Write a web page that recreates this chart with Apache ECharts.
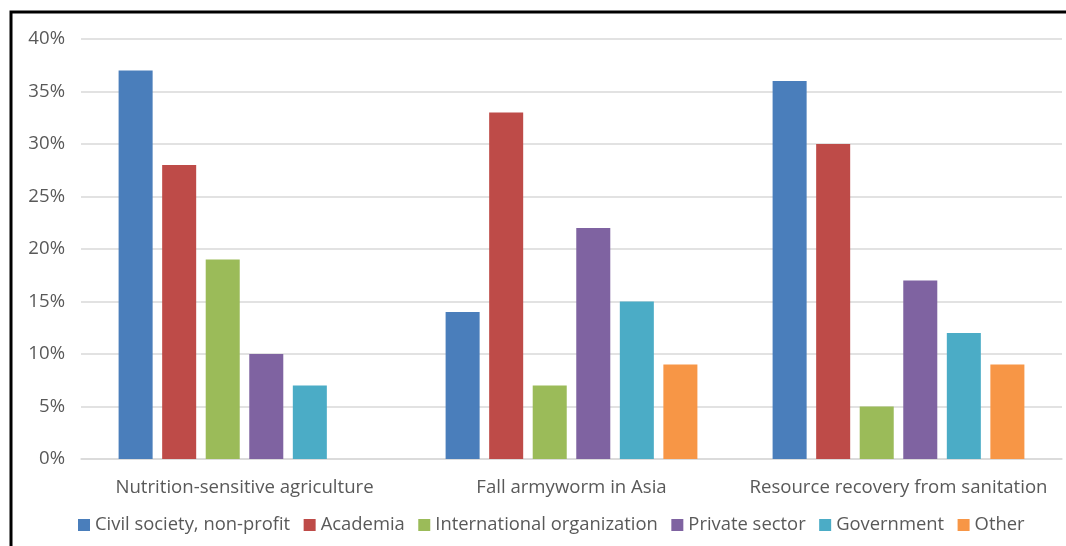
<!DOCTYPE html>
<html>
<head>
<meta charset="utf-8">
<script src="https://cdn.jsdelivr.net/npm/echarts@6/dist/echarts.min.js"></script>
<style>
  html, body { margin: 0; padding: 0; background: #fff; }
  #chart { width: 1066px; height: 546px; }
</style>
</head>
<body>
<div id="chart"></div>
<script>
// Share of participants by stakeholder type, per topic
const categories = ['Nutrition-sensitive agriculture', 'Fall armyworm in Asia', 'Resource recovery from sanitation'];
const seriesNames = ['Civil society, non-profit', 'Academia', 'International organization', 'Private sector', 'Government', 'Other'];
const civilSociety = [37, 14, 36];
const academia = [28, 33, 30];
const internationalOrg = [19, 7, 5];
const privateSector = [10, 22, 17];
const government = [7, 15, 12];
const other = [null, 9, 9];
const yTicks = [0, 5, 10, 15, 20, 25, 30, 35, 40];

const values = [civilSociety, academia, internationalOrg, privateSector, government, other];
const colors = ['#4A7EBB', '#BE4B48', '#9BBB59', '#7F63A1', '#4BACC6', '#F79646'];
const font = '"Open Sans", "Noto Sans", sans-serif';
const textColor = '#595959';

const chart = echarts.init(document.getElementById('chart'));
chart.setOption({
  animation: false,
  textStyle: { fontFamily: font },
  graphic: [
    { type: 'polyline', silent: true,
      shape: { points: [[11, 548], [11, 12], [1068, 12]] },
      style: { stroke: '#000', lineWidth: 3, fill: null } }
  ],
  grid: { left: 81, right: 4, top: 39, bottom: 87 },
  legend: {
    top: 511,
    left: 73,
    itemWidth: 12,
    itemHeight: 12,
    itemGap: 13.5,
    icon: 'rect',
    textStyle: { color: textColor, fontSize: 18.4, fontFamily: font },
    data: seriesNames
  },
  xAxis: {
    type: 'category',
    data: categories,
    axisLine: { lineStyle: { color: '#d9d9d9', width: 1.5 } },
    axisTick: { show: false },
    axisLabel: { color: textColor, fontSize: 18.6, margin: 19, interval: 0, fontFamily: font }
  },
  yAxis: {
    type: 'value',
    min: yTicks[0],
    max: yTicks[yTicks.length - 1],
    interval: 5,
    axisLine: { show: false },
    axisTick: { show: false },
    splitLine: { lineStyle: { color: '#d9d9d9', width: 1.5 } },
    axisLabel: { color: textColor, fontSize: 18.6, margin: 16, fontFamily: font, formatter: '{value}%' }
  },
  series: seriesNames.map((name, i) => ({
    name,
    type: 'bar',
    data: values[i],
    barGap: '28%',
    barCategoryGap: '23%',
    itemStyle: { color: colors[i] }
  }))
});
</script>
</body>
</html>
